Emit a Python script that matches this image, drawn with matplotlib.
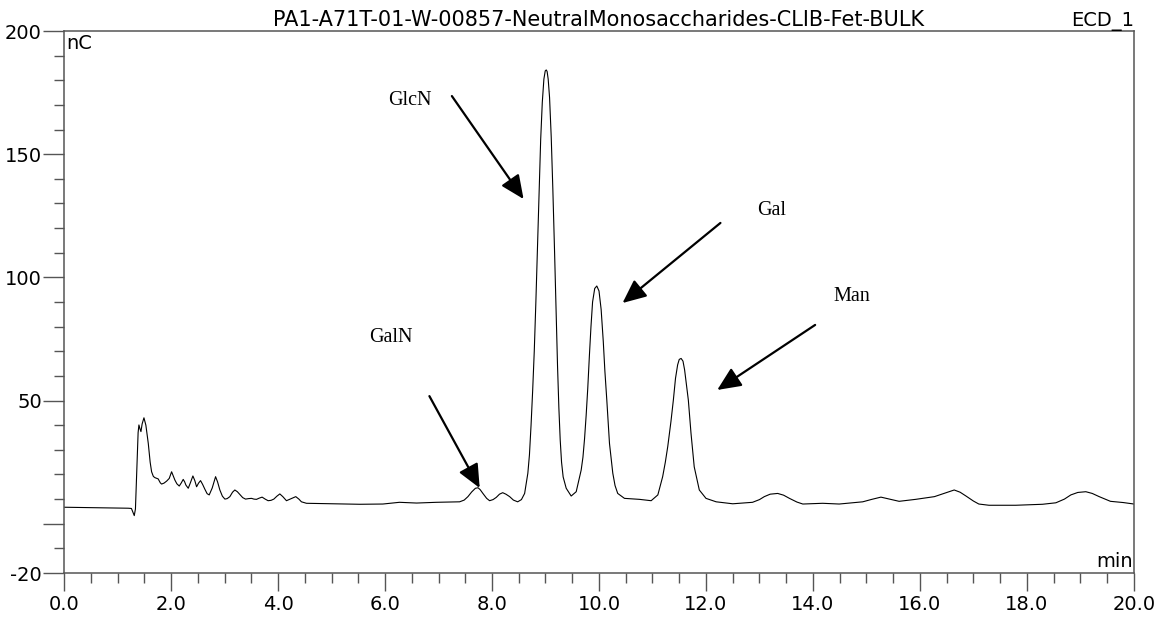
import matplotlib
matplotlib.use("Agg")
import matplotlib.pyplot as plt
from matplotlib.ticker import FixedLocator, FixedFormatter

# (retention time in min, signal in nC)
trace_early = [
    (0.0, 6.7), (0.6, 6.5), (1.2, 6.3), (1.26, 6.2), (1.29, 4.5), (1.313, 3.3),
    (1.335, 6.0), (1.36, 22.0), (1.385, 37.0), (1.40, 40.1), (1.42, 38.5),
    (1.438, 37.4), (1.46, 40.5), (1.494, 43.0), (1.53, 40.0), (1.575, 32.6),
    (1.61, 25.0), (1.637, 21.1), (1.67, 19.2), (1.70, 18.7), (1.76, 18.2),
    (1.80, 16.6), (1.824, 16.1), (1.87, 16.5), (1.918, 17.3), (1.967, 18.4),
    (2.011, 21.1), (2.04, 19.5), (2.073, 17.7), (2.11, 16.2), (2.154, 15.3),
    (2.19, 16.5), (2.228, 18.0), (2.255, 17.0), (2.278, 15.7), (2.322, 14.4),
    (2.36, 16.5), (2.409, 19.4), (2.445, 17.5), (2.478, 15.0), (2.515, 16.5),
    (2.552, 17.5), (2.59, 16.0), (2.633, 14.0), (2.675, 12.2), (2.714, 11.7),
    (2.77, 14.5), (2.833, 19.1), (2.87, 17.0), (2.913, 13.7), (2.96, 11.2),
    (3.007, 10.0), (3.05, 10.2), (3.10, 11.0), (3.15, 12.8), (3.193, 13.7),
    (3.24, 13.0), (3.287, 11.9), (3.34, 10.6), (3.393, 10.0), (3.45, 10.2),
    (3.505, 10.3), (3.55, 10.0), (3.598, 9.9), (3.65, 10.4), (3.703, 10.8),
    (3.76, 10.0), (3.815, 9.35), (3.87, 9.5), (3.922, 10.0), (3.98, 11.2),
    (4.034, 12.1), (4.09, 11.0), (4.158, 9.35), (4.25, 10.2), (4.332, 11.0),
    (4.39, 10.0), (4.438, 8.9), (4.532, 8.3), (5.03, 8.1), (5.53, 7.9),
]
trace_peaks = [
    (5.96, 8.0), (6.27, 8.7), (6.59, 8.4), (6.96, 8.7), (7.395, 8.9), (7.48, 9.6),
    (7.55, 11.0), (7.62, 12.9), (7.69, 14.4), (7.74, 14.6), (7.78, 13.8),
    (7.83, 12.3), (7.90, 10.3), (7.955, 9.35), (8.02, 9.8), (8.08, 10.7),
    (8.14, 12.0), (8.20, 12.6), (8.26, 12.0), (8.33, 11.0), (8.40, 9.6),
    (8.48, 8.9), (8.55, 9.8), (8.61, 12.3), (8.67, 20.5), (8.70, 28.0),
    (8.73, 40.0), (8.76, 54.0), (8.79, 70.0), (8.82, 90.0), (8.85, 112.0),
    (8.88, 135.0), (8.91, 156.0), (8.94, 171.0), (8.97, 180.5), (8.995, 183.8),
    (9.014, 184.2), (9.03, 183.6), (9.05, 180.5), (9.076, 173.0), (9.107, 157.0),
    (9.137, 136.0), (9.17, 110.0), (9.20, 84.0), (9.225, 64.0), (9.25, 47.0),
    (9.275, 34.0), (9.30, 25.0), (9.33, 19.0), (9.387, 14.4), (9.48, 11.25),
    (9.574, 13.0), (9.667, 21.8), (9.70, 27.0), (9.73, 34.5), (9.76, 44.0),
    (9.79, 55.0), (9.82, 68.0), (9.85, 80.0), (9.88, 90.0), (9.92, 95.5),
    (9.959, 96.5), (10.0, 94.5), (10.04, 87.0), (10.08, 74.0), (10.11, 62.0),
    (10.146, 50.2), (10.196, 32.6), (10.258, 20.5), (10.30, 15.5), (10.35, 12.3),
    (10.476, 10.3), (10.756, 9.9), (10.975, 9.35), (11.1, 11.7), (11.19, 19.1),
    (11.24, 25.0), (11.285, 31.3), (11.345, 41.5), (11.39, 50.2), (11.43, 59.0),
    (11.47, 64.5), (11.50, 66.7), (11.535, 67.1), (11.57, 66.0), (11.60, 62.5),
    (11.635, 56.5), (11.67, 50.2), (11.72, 36.7), (11.78, 23.1), (11.875, 13.7),
    (12.0, 10.3), (12.19, 8.9),
]
trace_late = [
    (12.5, 8.1), (12.87, 8.7), (13.0, 9.8), (13.09, 11.0), (13.2, 12.0),
    (13.34, 12.3), (13.45, 11.6), (13.56, 10.3), (13.7, 8.8), (13.81, 8.0),
    (14.18, 8.3), (14.49, 8.0), (14.93, 8.9), (15.1, 9.9), (15.27, 10.8),
    (15.45, 9.9), (15.61, 9.1), (15.92, 9.9), (16.27, 11.0), (16.45, 12.3),
    (16.64, 13.7), (16.75, 12.8), (16.86, 11.25), (17.0, 9.2), (17.1, 8.0),
    (17.29, 7.5), (17.79, 7.5), (18.29, 7.9), (18.54, 8.5), (18.7, 10.0),
    (18.82, 11.7), (18.95, 12.7), (19.1, 13.0), (19.22, 12.3), (19.35, 11.0),
    (19.56, 9.1), (19.8, 8.6), (20.0, 8.0),
]

x_major = [0, 2, 4, 6, 8, 10, 12, 14, 16, 18, 20]
x_labels = ["0.0", "2.0", "4.0", "6.0", "8.0", "10.0", "12.0", "14.0", "16.0", "18.0", "20.0"]
y_major = [-20, 0, 50, 100, 150, 200]
y_labels = ["-20", "", "50", "100", "150", "200"]

peak_names = ["GalN", "GlcN", "Gal", "Man"]

plt.rcParams["font.family"] = ["DejaVu Sans"]

trace = trace_early + trace_peaks + trace_late
time_min = [p[0] for p in trace]
signal_nc = [p[1] for p in trace]

fig = plt.figure(figsize=(11.64, 6.18), dpi=100)
ax = fig.add_axes([0.055, 0.0728, 0.9192, 0.877])

ax.plot(time_min, signal_nc, color="black", linewidth=0.8)

ax.set_xlim(0, 20)
ax.set_ylim(-20, 200)

ax.xaxis.set_major_locator(FixedLocator(x_major))
ax.xaxis.set_major_formatter(FixedFormatter(x_labels))
ax.xaxis.set_minor_locator(FixedLocator([v * 0.5 for v in range(41)]))
ax.yaxis.set_major_locator(FixedLocator(y_major))
ax.yaxis.set_major_formatter(FixedFormatter(y_labels))
ax.yaxis.set_minor_locator(FixedLocator(list(range(-20, 201, 10))))

spine_col = "#555555"
for s in ax.spines.values():
    s.set_color(spine_col)
    s.set_linewidth(1.1)

ax.tick_params(axis="x", which="major", length=13, width=1, color=spine_col,
               labelsize=14, pad=3)
ax.tick_params(axis="x", which="minor", length=7, width=1, color=spine_col)
ax.tick_params(axis="y", which="major", length=15, width=1, color=spine_col,
               labelsize=14, pad=1)
ax.tick_params(axis="y", which="minor", length=7, width=1, color=spine_col)

ax.set_title("PA1-A71T-01-W-00857-NeutralMonosaccharides-CLIB-Fet-BULK",
             fontsize=15, pad=3)
ax.set_title("ECD_1", loc="right", fontsize=14, pad=3)

ax.text(0.002, 0.995, "nC", transform=ax.transAxes, ha="left", va="top", fontsize=14)
ax.text(0.999, 0.004, "min", transform=ax.transAxes, ha="right", va="bottom", fontsize=14)

# peak labels with arrows
label_xy = [(6.11, 75.4), (6.46, 172), (13.22, 127), (14.73, 92.4)]
tail_xy = [(6.83, 51.8), (7.25, 173.6), (12.27, 122.1), (14.04, 80.7)]
tip_xy = [(7.77, 14.5), (8.59, 131.8), (10.44, 89.6), (12.21, 54.3)]

for name, lxy, txy, hxy in zip(peak_names, label_xy, tail_xy, tip_xy):
    ax.text(lxy[0], lxy[1], name, ha="center", va="center", fontsize=14.5,
            family=["Liberation Serif", "DejaVu Serif"])
    ax.annotate("", xy=hxy, xytext=txy,
                arrowprops=dict(arrowstyle="-|>,head_length=0.6,head_width=0.27",
                                color="black", lw=1.6, mutation_scale=24,
                                shrinkA=0, shrinkB=0))

fig.savefig("out.png", dpi=100)
